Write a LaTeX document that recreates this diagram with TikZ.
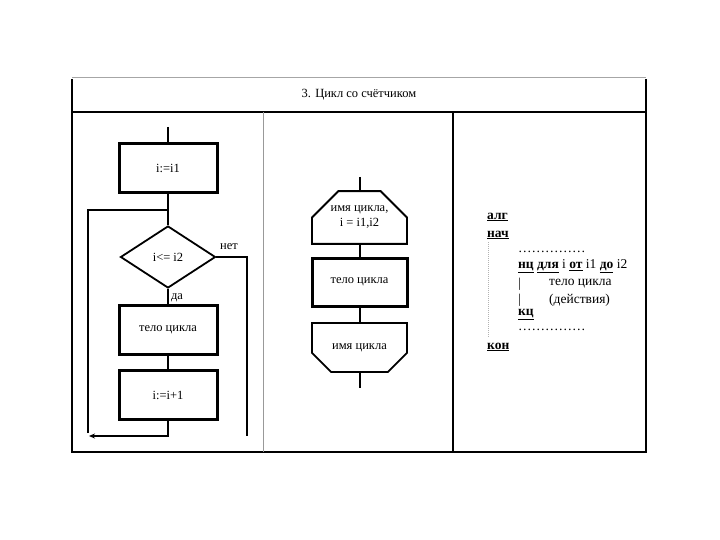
\documentclass[tikz,border=0pt]{standalone}
\usepackage{fontspec}
\setmainfont{Liberation Serif}
\usetikzlibrary{shapes.geometric,shapes.misc,arrows.meta}
\newcommand{\kw}[1]{\textbf{\underline{#1}}}
\begin{document}
\begin{tikzpicture}[x=1pt,y=-1pt,
  font=\fontsize{12.5}{14}\selectfont,
  frameline/.style={line width=1.3pt},
  thickbox/.style={draw, line width=3pt, minimum width=98pt, minimum height=49pt, inner sep=0pt},
  flow/.style={line width=2pt},
  dia/.style={draw, shape=diamond, line width=1.8pt, minimum width=95pt, minimum height=62pt, inner sep=0pt},
  chamtop/.style={draw, chamfered rectangle, chamfered rectangle corners={north west,north east}, chamfered rectangle xsep=15pt, chamfered rectangle ysep=15pt, line width=1.8pt, minimum width=95pt, minimum height=49pt, inner sep=0pt},
  chambot/.style={draw, chamfered rectangle, chamfered rectangle corners={south west,south east}, chamfered rectangle xsep=15pt, chamfered rectangle ysep=15pt, line width=1.8pt, minimum width=95pt, minimum height=49pt, inner sep=0pt},
  midbox/.style={draw, line width=3pt, minimum width=95pt, minimum height=48pt, inner sep=0pt},
  txt/.style={inner sep=0pt, anchor=west, font=\fontsize{13.5}{16}\selectfont}
]
\useasboundingbox (0,0) rectangle (720,540);
% frame
\draw[line width=0.8pt, black!35] (72,77) -- (646,77);
\draw[frameline] (72,79) -- (72,452) -- (646,452) -- (646,79);
\draw[frameline] (72,112) -- (646,112);
\draw[line width=0.8pt, black!40] (263,112) -- (263,452);
\draw[frameline] (453,112) -- (453,452);
\node[inner sep=0pt] (title) at (359,95) {3. Цикл со счётчиком};

% left flowchart
\coordinate (st) at (168,127);
\node[thickbox] (b1) at (168,168.5) {i:=i1};
\node[dia] (d) at (168,257) {i<= i2};
\node[thickbox] (b3) at (168,329.5) {тело цикла};
\node[thickbox] (b4) at (168,395) {i:=i+1};
\coordinate (jn) at (168,210);
\coordinate (lp) at (88,433);
\coordinate (tip) at (89,436);
\coordinate (ex) at (247,436);
\draw[flow] (st) -- (b1.north);
\draw[flow] (b1.south) -- (d.north);
\draw[flow] (d.south) -- (b3.north);
\draw[flow] (b3.south) -- (b4.south |- b4.north);
\draw[flow, -{Stealth[length=6pt,width=5pt]}] (b4.south) |- (tip);
\draw[flow] (lp) |- (jn);
\draw[flow] (d.east) -| (ex);
\node[inner sep=0pt] (net) at (229,247) {нет};
\node[inner sep=0pt] (da) at (177,298) {да};

% middle flowchart
\coordinate (mst) at (359.5,177);
\node[chamtop, align=center] (m1) at (359.5,217.5) {имя цикла,\\[1pt] i = i1,i2};
\node[midbox] (m2) at (359.5,282) {тело цикла};
\node[chambot] (m3) at (359.5,347.5) {имя цикла};
\coordinate (mend) at (359.5,388);
\draw[flow] (mst) -- (m1.north);
\draw[flow] (m1.south) -- (m2.north);
\draw[flow] (m2.south) -- (m3.north);
\draw[flow] (m3.south) -- (mend);

% right column: algorithm text
\draw[black!30, line width=0.5pt, dash pattern=on 1pt off 1pt] (488,242) -- (488,338);
\node[txt] (alg) at (487,217) {\kw{алг}};
\node[txt] (nach) at (487,235) {\kw{нач}};
\node[txt] (dots1) at (518,252) {……………};
\node[txt] (nc) at (518,266) {\kw{нц} \kw{для} i \kw{от} i1 \kw{до} i2};
\node[txt] (bar1) at (518,284) {|};
\node[txt] (body1) at (549,284) {тело цикла};
\node[txt] (bar2) at (518,300) {|};
\node[txt] (body2) at (549,300) {(действия)};
\node[txt] (kc) at (518,315) {\kw{кц}};
\node[txt] (dots2) at (518,330) {……………};
\node[txt] (kon) at (487,347) {\kw{кон}};
\end{tikzpicture}
\end{document}
